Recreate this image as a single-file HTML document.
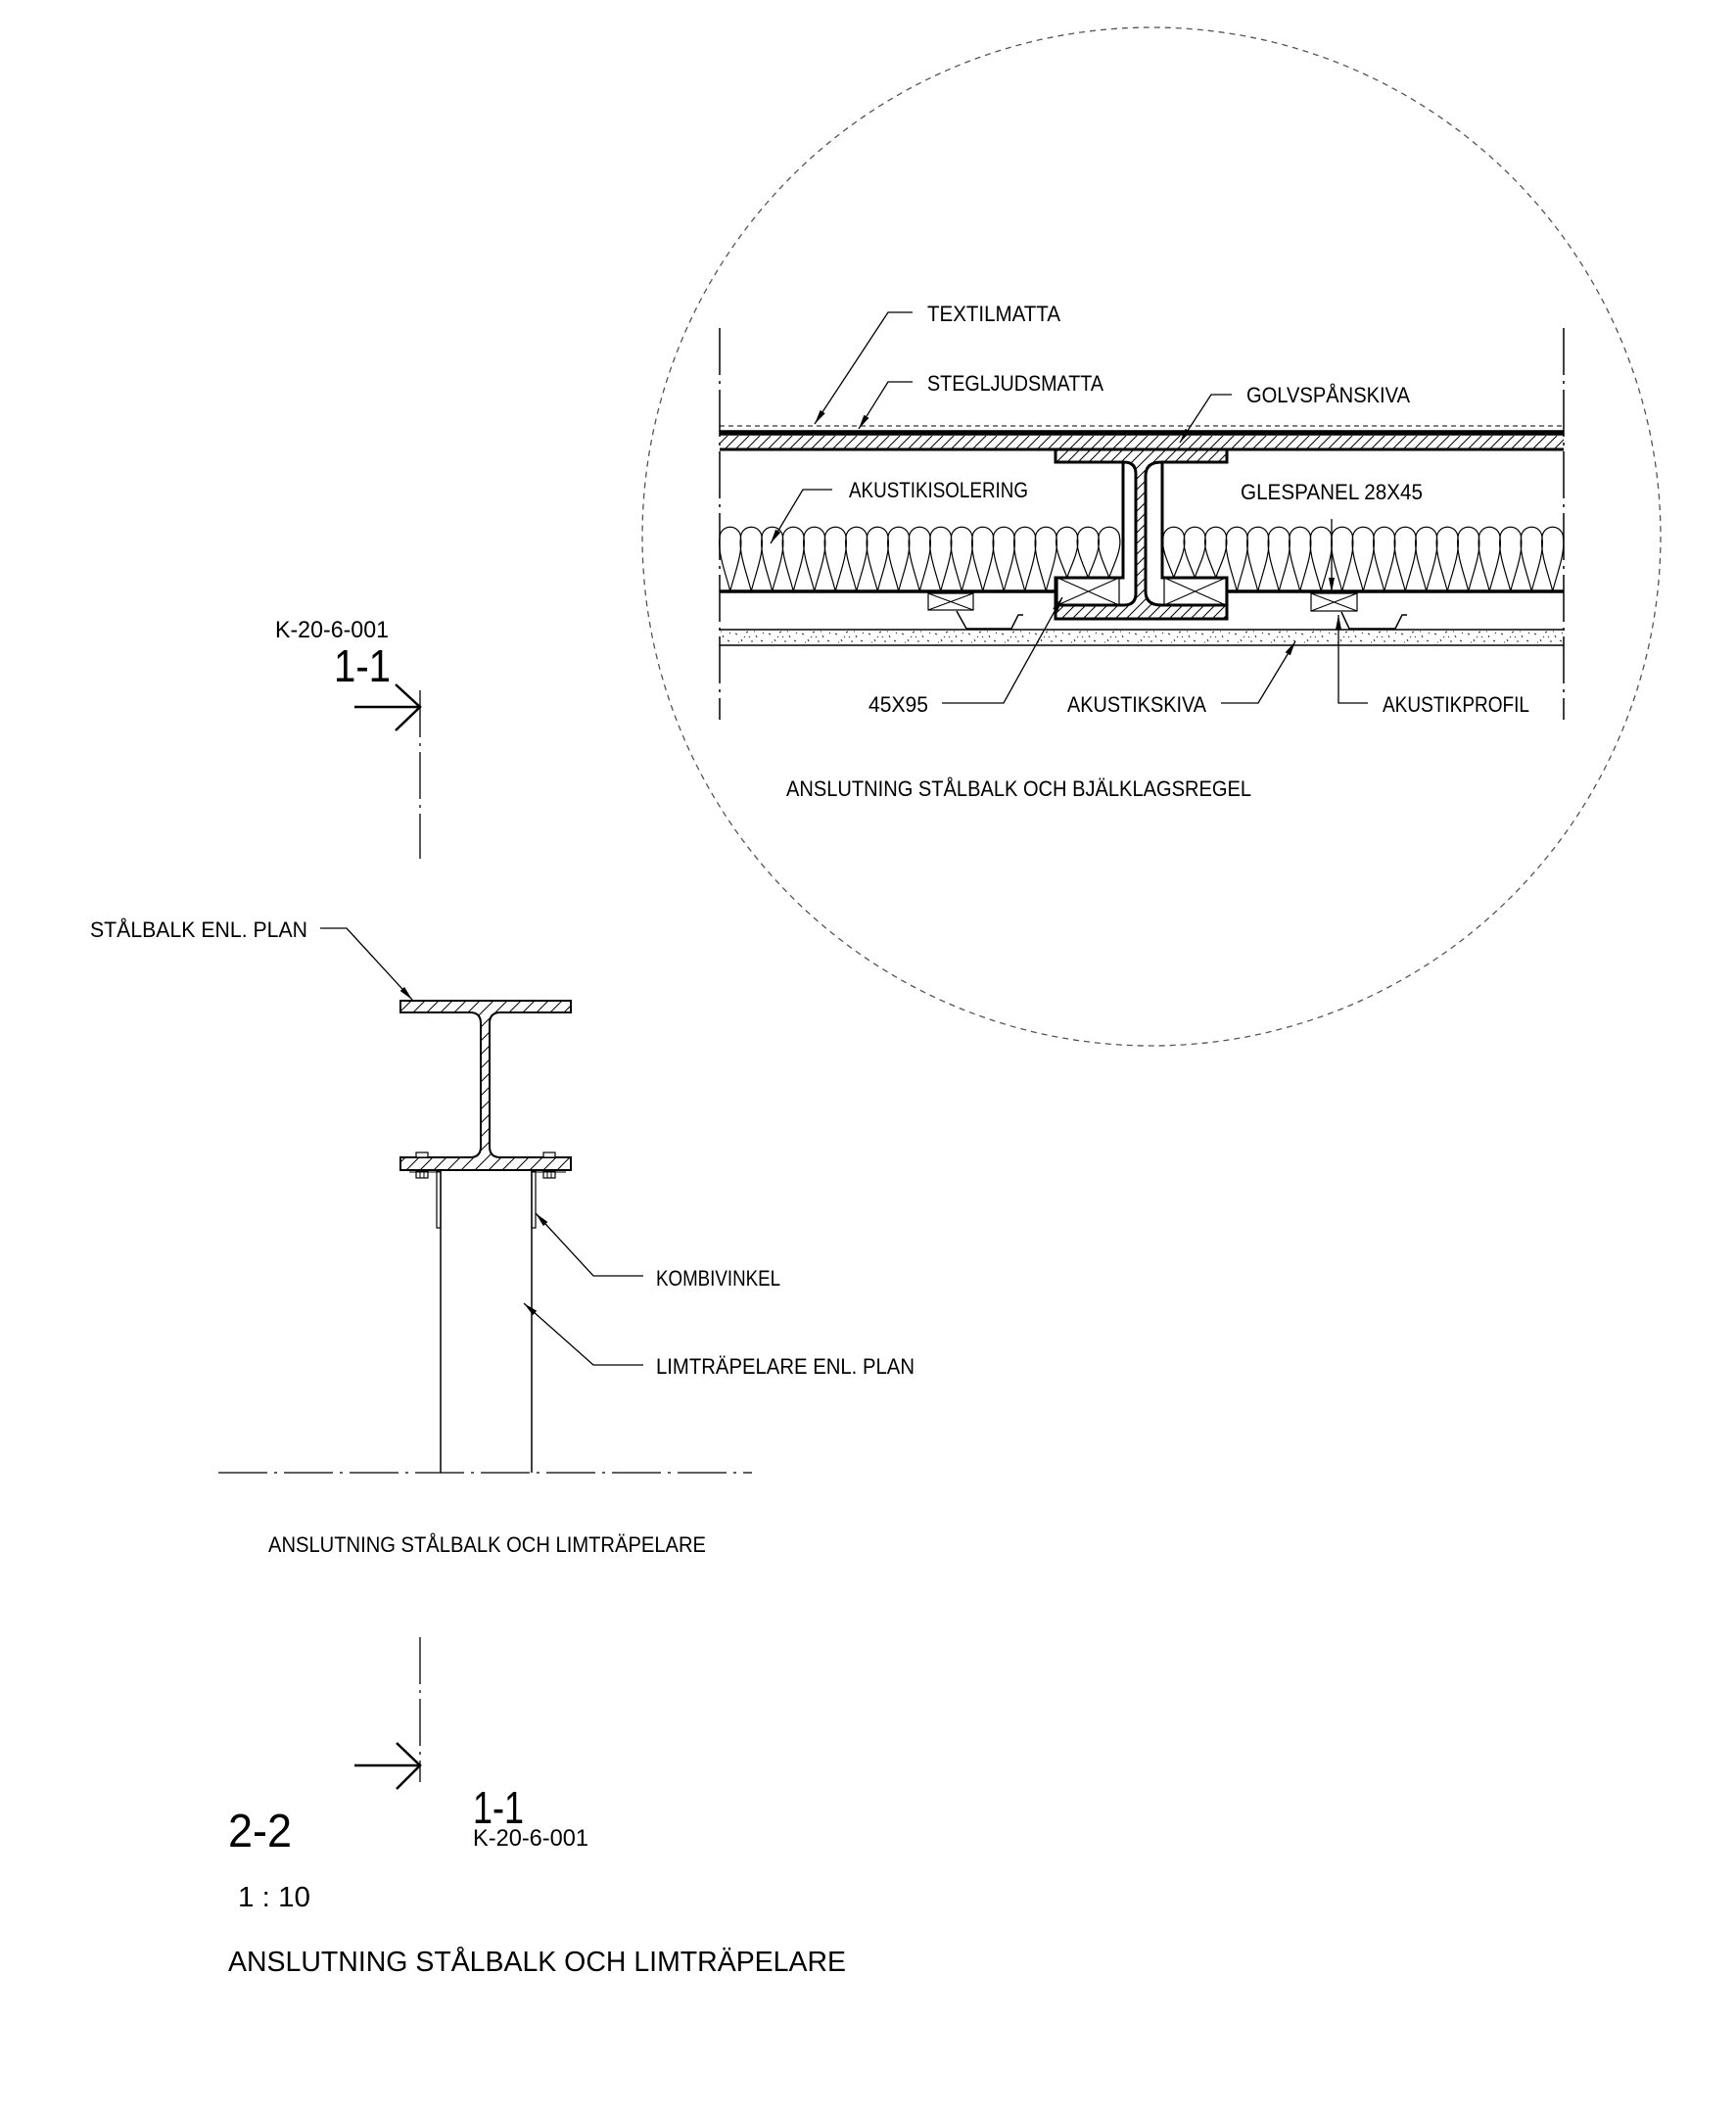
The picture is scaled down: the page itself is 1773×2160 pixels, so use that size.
<!DOCTYPE html>
<html>
<head>
<meta charset="utf-8">
<style>
html,body{margin:0;padding:0;background:#fff;width:1773px;height:2160px;overflow:hidden}
svg{display:block}
text{font-family:"Liberation Sans",sans-serif;fill:#000}
</style>
</head>
<body>
<svg width="1773" height="2160" viewBox="0 0 1773 2160" xmlns="http://www.w3.org/2000/svg">
<defs>
  <pattern id="hatch" patternUnits="userSpaceOnUse" width="11" height="11">
    <path d="M-1,1 L1,-1 M0,11 L11,0 M10,12 L12,10" stroke="#000" stroke-width="1"/>
  </pattern>
  <pattern id="hatch2" patternUnits="userSpaceOnUse" width="14" height="14">
    <path d="M-1,1 L1,-1 M0,14 L14,0 M13,15 L15,13" stroke="#000" stroke-width="1"/>
  </pattern>
  <pattern id="speck" patternUnits="userSpaceOnUse" x="0" y="643" width="34" height="16">
    <path d="M3,4 l2,1 M9,10 l1,2 M14,3 l2,-1 M19,12 l2,0 M24,6 l1,2 M29,11 l2,1 M31,3 l1,1 M6,13 l1,0 M12,7 l1,1 M22,2 l1,0 M17,8 l1,-1" stroke="#333" stroke-width="1"/>
  </pattern>
  <marker id="ar" markerWidth="16" markerHeight="8" refX="15" refY="3" orient="auto" markerUnits="userSpaceOnUse">
    <path d="M0,0 L15,3 L0,6 z" fill="#000"/>
  </marker>
  <path id="bt" d="M0,604 C-3,590 -13.3,565 -10.75,549 A10.75,10.75 0 0 1 10.75,549 C13.3,565 3,590 0,604" fill="none" stroke="#000" stroke-width="1.2"/>
  <path id="bs" d="M0,590 C-3,580 -13.3,562 -10.75,549 A10.75,10.75 0 0 1 10.75,549 C13.3,562 3,580 0,590" fill="none" stroke="#000" stroke-width="1.2"/>
</defs>

<!-- Detail circle -->
<circle cx="1176" cy="548" r="520" fill="none" stroke="#555" stroke-width="1.3" stroke-dasharray="6 5"/>

<!-- Section break lines -->
<g stroke="#000" stroke-width="1.5" stroke-dasharray="48 6 3 6" fill="none">
  <line x1="735" y1="335" x2="735" y2="735"/>
  <line x1="1597" y1="335" x2="1597" y2="735"/>
</g>

<!-- Floor layers -->
<line x1="735" y1="435" x2="1597" y2="435" stroke="#000" stroke-width="1" stroke-dasharray="5 4"/>
<rect x="735" y="445" width="862" height="14" fill="url(#hatch)"/>
<line x1="735" y1="442" x2="1597" y2="442" stroke="#000" stroke-width="5.5"/>
<line x1="735" y1="459" x2="1597" y2="459" stroke="#000" stroke-width="3"/>

<!-- Insulation balloons -->
<g>
  <use href="#bt" x="745.75"/><use href="#bt" x="767.25"/><use href="#bt" x="788.75"/><use href="#bt" x="810.25"/>
  <use href="#bt" x="831.75"/><use href="#bt" x="853.25"/><use href="#bt" x="874.75"/><use href="#bt" x="896.25"/>
  <use href="#bt" x="917.75"/><use href="#bt" x="939.25"/><use href="#bt" x="960.75"/><use href="#bt" x="982.25"/>
  <use href="#bt" x="1003.75"/><use href="#bt" x="1025.25"/><use href="#bt" x="1046.75"/><use href="#bt" x="1068.25"/>
  <use href="#bs" x="1089.75"/><use href="#bs" x="1111.25"/><use href="#bs" x="1132.75"/>
  <use href="#bs" x="1198.75"/><use href="#bs" x="1220.25"/><use href="#bs" x="1241.75"/>
  <use href="#bt" x="1263.25"/><use href="#bt" x="1284.75"/><use href="#bt" x="1306.25"/><use href="#bt" x="1327.75"/>
  <use href="#bt" x="1349.25"/><use href="#bt" x="1370.75"/><use href="#bt" x="1392.25"/><use href="#bt" x="1413.75"/>
  <use href="#bt" x="1435.25"/><use href="#bt" x="1456.75"/><use href="#bt" x="1478.25"/><use href="#bt" x="1499.75"/>
  <use href="#bt" x="1521.25"/><use href="#bt" x="1542.75"/><use href="#bt" x="1564.25"/><use href="#bt" x="1585.75"/>
</g>
<line x1="735" y1="604" x2="1078" y2="604" stroke="#000" stroke-width="3.5"/>
<line x1="1253" y1="604" x2="1597" y2="604" stroke="#000" stroke-width="3.5"/>

<!-- Timbers 45x95 -->
<g stroke="#000" stroke-width="1.2" fill="#fff">
  <rect x="1080" y="590" width="63" height="28"/>
  <rect x="1189" y="590" width="63" height="28"/>
</g>
<g stroke="#000" stroke-width="1">
  <line x1="1080" y1="590" x2="1143" y2="618"/><line x1="1080" y1="618" x2="1143" y2="590"/>
  <line x1="1189" y1="590" x2="1252" y2="618"/><line x1="1189" y1="618" x2="1252" y2="590"/>
</g>

<!-- Steel beam in circle -->
<path d="M1078,459 H1253 V472 H1186 Q1170,472 1170,486 V604 Q1170,618 1186,618 H1253 V632 H1078 V618 H1148 Q1160,618 1160,606 V484 Q1160,472 1148,472 H1078 Z" fill="url(#hatch)" stroke="#000" stroke-width="3"/>
<g stroke="#000" stroke-width="3" fill="none">
  <path d="M1147,472 V590 H1078 V618"/>
  <path d="M1187,472 V590 H1253 V618"/>
</g>

<!-- Glespanel boxes -->
<g stroke="#000" stroke-width="1.2" fill="#fff">
  <rect x="948" y="606" width="46" height="17"/>
  <rect x="1339" y="606" width="47" height="18"/>
</g>
<g stroke="#000" stroke-width="1">
  <line x1="948" y1="606" x2="994" y2="623"/><line x1="948" y1="623" x2="994" y2="606"/>
  <line x1="1339" y1="606" x2="1386" y2="624"/><line x1="1339" y1="624" x2="1386" y2="606"/>
</g>
<!-- Akustikprofil -->
<g stroke="#000" stroke-width="1.5" fill="none">
  <polyline points="977,624 987,642 1033,642 1040,628 1045,628"/>
  <polyline points="1370,625 1378,642 1425,642 1432,628 1437,628"/>
</g>

<!-- Akustikskiva -->
<rect x="735" y="643" width="862" height="16" fill="url(#speck)"/>
<line x1="735" y1="643" x2="1597" y2="643" stroke="#000" stroke-width="1.5"/>
<line x1="735" y1="659" x2="1597" y2="659" stroke="#000" stroke-width="1.5"/>

<!-- Circle leaders -->
<g stroke="#000" stroke-width="1.3" fill="none" marker-end="url(#ar)">
  <path d="M932,319 H907 L832,433"/>
  <path d="M932,390 H907 L877,438"/>
  <path d="M1258,403 H1237 L1205,452"/>
  <path d="M850,500 H820 L787,555"/>
  <path d="M1360,530 V605"/>
  <path d="M962,718 H1025 L1085,610"/>
  <path d="M1247,718 H1285 L1323,655"/>
  <path d="M1397,718 H1367 V628"/>
</g>

<!-- Circle labels -->
<g font-size="22">
  <text x="947" y="328" textLength="136" lengthAdjust="spacingAndGlyphs">TEXTILMATTA</text>
  <text x="947" y="399" textLength="180" lengthAdjust="spacingAndGlyphs">STEGLJUDSMATTA</text>
  <text x="1273" y="411" textLength="167" lengthAdjust="spacingAndGlyphs">GOLVSPÅNSKIVA</text>
  <text x="867" y="508" textLength="183" lengthAdjust="spacingAndGlyphs">AKUSTIKISOLERING</text>
  <text x="1267" y="510" textLength="186" lengthAdjust="spacingAndGlyphs">GLESPANEL 28X45</text>
  <text x="887" y="727" textLength="61" lengthAdjust="spacingAndGlyphs">45X95</text>
  <text x="1090" y="727" textLength="142" lengthAdjust="spacingAndGlyphs">AKUSTIKSKIVA</text>
  <text x="1412" y="727" textLength="150" lengthAdjust="spacingAndGlyphs">AKUSTIKPROFIL</text>
  <text x="803" y="813" textLength="475" lengthAdjust="spacingAndGlyphs">ANSLUTNING STÅLBALK OCH BJÄLKLAGSREGEL</text>
</g>

<!-- Top-left section marker -->
<text x="281" y="651" font-size="24" textLength="116" lengthAdjust="spacingAndGlyphs">K-20-6-001</text>
<text x="341" y="696" font-size="46" textLength="58" lengthAdjust="spacingAndGlyphs">1-1</text>
<line x1="362" y1="722" x2="429" y2="722" stroke="#000" stroke-width="2.5"/>
<polyline points="404,699 429,722 404,746" fill="none" stroke="#000" stroke-width="2.5"/>
<line x1="429" y1="705" x2="429" y2="877" stroke="#000" stroke-width="1.3" stroke-dasharray="48 6 3 6"/>

<!-- Left I-beam -->
<path d="M409,1022 H583 V1034 H511 Q500,1034 500,1045 V1171 Q500,1182 511,1182 H583 V1195 H409 V1182 H480 Q491,1182 491,1171 V1045 Q491,1034 480,1034 H409 Z" fill="url(#hatch2)" stroke="#000" stroke-width="2"/>

<!-- Bolts -->
<g stroke="#000" stroke-width="1.2" fill="#fff">
  <rect x="425" y="1177" width="12" height="5"/>
  <rect x="425" y="1196" width="12" height="7"/>
  <rect x="555" y="1177" width="12" height="5"/>
  <rect x="555" y="1196" width="12" height="7"/>
</g>
<g stroke="#000" stroke-width="1">
  <line x1="429" y1="1196" x2="429" y2="1203"/><line x1="433" y1="1196" x2="433" y2="1203"/>
  <line x1="559" y1="1196" x2="559" y2="1203"/><line x1="563" y1="1196" x2="563" y2="1203"/>
  <line x1="418" y1="1197" x2="450" y2="1197"/>
  <line x1="543" y1="1197" x2="578" y2="1197"/>
</g>
<!-- Kombivinkel legs -->
<g stroke="#000" stroke-width="1.2" fill="none">
  <rect x="446" y="1196" width="4" height="58"/>
  <rect x="543" y="1196" width="4" height="58"/>
</g>
<!-- Column -->
<g stroke="#000" stroke-width="1.5">
  <line x1="450" y1="1196" x2="450" y2="1504"/>
  <line x1="543" y1="1196" x2="543" y2="1504"/>
</g>
<line x1="223" y1="1504" x2="768" y2="1504" stroke="#000" stroke-width="1.3" stroke-dasharray="50 7 3 7"/>

<!-- Left leaders -->
<g stroke="#000" stroke-width="1.3" fill="none" marker-end="url(#ar)">
  <path d="M327,948 H354 L421,1021"/>
  <path d="M657,1303 H606 L547,1239"/>
  <path d="M657,1394 H606 L535,1331"/>
</g>
<g font-size="22">
  <text x="92" y="957" textLength="222" lengthAdjust="spacingAndGlyphs">STÅLBALK ENL. PLAN</text>
  <text x="670" y="1313" textLength="127" lengthAdjust="spacingAndGlyphs">KOMBIVINKEL</text>
  <text x="670" y="1403" textLength="264" lengthAdjust="spacingAndGlyphs">LIMTRÄPELARE ENL. PLAN</text>
  <text x="274" y="1585" textLength="447" lengthAdjust="spacingAndGlyphs">ANSLUTNING STÅLBALK OCH LIMTRÄPELARE</text>
</g>

<!-- Bottom section marker -->
<line x1="429" y1="1672" x2="429" y2="1820" stroke="#000" stroke-width="1.3" stroke-dasharray="48 6 3 6"/>
<line x1="362" y1="1803" x2="429" y2="1803" stroke="#000" stroke-width="2.5"/>
<polyline points="405,1780 429,1803 405,1827" fill="none" stroke="#000" stroke-width="2.5"/>
<text x="483" y="1862" font-size="46" textLength="52" lengthAdjust="spacingAndGlyphs">1-1</text>
<text x="483" y="1885" font-size="24" textLength="118" lengthAdjust="spacingAndGlyphs">K-20-6-001</text>
<text x="233" y="1886" font-size="48" textLength="65" lengthAdjust="spacingAndGlyphs">2-2</text>
<text x="243" y="1947" font-size="29" textLength="74" lengthAdjust="spacingAndGlyphs">1 : 10</text>
<text x="233" y="2013" font-size="29" textLength="631" lengthAdjust="spacingAndGlyphs">ANSLUTNING STÅLBALK OCH LIMTRÄPELARE</text>
</svg>
</body>
</html>
